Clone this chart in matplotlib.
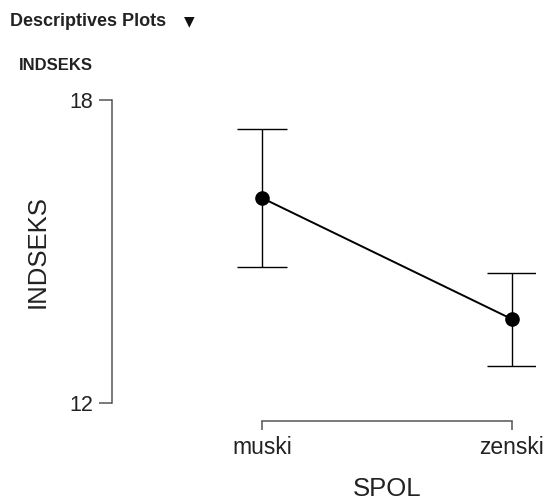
import matplotlib
matplotlib.use("Agg")
import matplotlib.pyplot as plt

categories = ["muski", "zenski"]
means = [16.06, 13.66]
upper = [17.43, 14.57]
lower = [14.69, 12.73]
yticks = [12, 18]

W, H = 547, 500
fig = plt.figure(figsize=(W / 100, H / 100), dpi=100)
# axes in pixel coordinates
ax_left, ax_right, ax_top, ax_bottom = 112, 535, 88, 421
ax = fig.add_axes([ax_left / W, 1 - ax_bottom / H, (ax_right - ax_left) / W, (ax_bottom - ax_top) / H])

x = list(range(len(categories)))
yerr = [[m - l for m, l in zip(means, lower)], [u - m for m, u in zip(means, upper)]]
ax.errorbar(x, means, yerr=yerr, fmt="none", ecolor="black", elinewidth=1.0,
            capsize=18, capthick=1.0, zorder=2)
ax.plot(x, means, color="black", lw=1.4, zorder=3)
ax.plot(x, means, "o", color="black", markersize=9.5, zorder=4)

# scale: 0 -> 262 px, 1 -> 512 px
px_per_x = 250
ax.set_xlim((ax_left - 262) / px_per_x, (ax_right - 262) / px_per_x)
px_per_y = 303 / 6
ax.set_ylim(12 - (ax_bottom - 403) / px_per_y, 18 + (100 - ax_top) / px_per_y)

for s in ["top", "right"]:
    ax.spines[s].set_visible(False)
ax.spines["left"].set_bounds(12, 18)
ax.spines["bottom"].set_bounds(0, 1)
for s in ["left", "bottom"]:
    ax.spines[s].set_color("#555555")
    ax.spines[s].set_linewidth(1.1)

ax.set_yticks(yticks)
ax.set_xticks(x)
ax.set_xticklabels(categories)
ax.tick_params(axis="y", direction="out", length=9.5, width=1.1, color="#555555",
               labelsize=15.5, pad=4)
ax.tick_params(axis="x", direction="out", length=6.5, width=1.1, color="#555555",
               labelsize=16.5, pad=4)
for lab in ax.get_xticklabels() + ax.get_yticklabels():
    lab.set_fontfamily("Liberation Sans")
    lab.set_color("#222222")

fig.text(38 / W, 1 - 252 / H, "INDSEKS", rotation=90, ha="center", va="center",
         fontsize=18.5, family="Liberation Sans", color="#222222")
fig.text(387 / W, 1 - 489 / H, "SPOL", ha="center", va="center",
         fontsize=18.5, family="Liberation Sans", color="#222222")

fig.text(10 / W, 1 - 22 / H, "Descriptives Plots", ha="left", va="center",
         fontsize=13, fontweight="bold", family="Liberation Sans", color="#222222")
fig.text(189 / W, 1 - 21 / H, "\u25bc", ha="center", va="center",
         fontsize=10, family="DejaVu Sans", color="#111111")
fig.text(19 / W, 1 - 66 / H, "INDSEKS", ha="left", va="center",
         fontsize=12, fontweight="bold", family="Liberation Sans", color="#222222")

fig.savefig("out.png", dpi=100)
